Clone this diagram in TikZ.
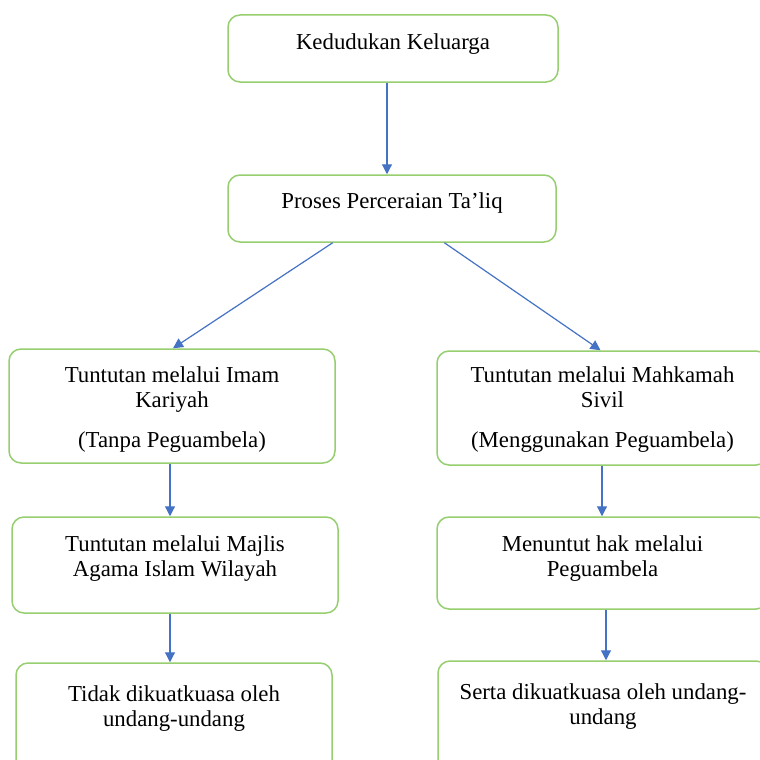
\documentclass[tikz,border=0pt]{standalone}
\usepackage{fontspec}
\setmainfont{Liberation Serif}
\usetikzlibrary{arrows.meta,calc}
\definecolor{boxgreen}{RGB}{150,206,112}
\definecolor{arrblue}{RGB}{68,114,196}
\newcommand{\boxtext}[4]{\parbox[t][#2][t]{#1}{\centering\rule{0pt}{#3}#4}}
\tikzset{
  flowbox/.style={draw=boxgreen, line width=1.5pt, rounded corners=12pt, inner sep=0pt, fill=white,
    font=\fontsize{22.8}{25}\selectfont},
  flowarrow/.style={draw=arrblue, line width=1.2pt, -{Triangle[length=10pt,width=10pt]}}
}
\begin{document}
\begin{tikzpicture}[x=1pt,y=-1pt]
\useasboundingbox (0,0) rectangle (760,760);
\clip (0,0) rectangle (760,760);
\fill[white] (0,0) rectangle (760,760);

\node[flowbox] (b1) at (393,48.5) {\boxtext{330pt}{67pt}{35pt}{Kedudukan Keluarga}};
\node[flowbox] (b2) at (392,208.5) {\boxtext{328pt}{67pt}{33pt}{Proses Perceraian Ta’liq}};
\node[flowbox] (b3) at (172,406) {\boxtext{326pt}{114pt}{33pt}{Tuntutan melalui Imam\\Kariyah\\[15pt](Tanpa Peguambela)}};
\node[flowbox] (b4) at (602.5,408) {\boxtext{331pt}{114pt}{31pt}{Tuntutan melalui Mahkamah\\Sivil\\[15pt](Menggunakan Peguambela)}};
\node[flowbox] (b5) at (175,565) {\boxtext{326pt}{96pt}{34pt}{Tuntutan melalui Majlis\\Agama Islam Wilayah}};
\node[flowbox] (b6) at (602.5,563) {\boxtext{331pt}{92pt}{34pt}{Menuntut hak melalui\\Peguambela}};
\node[flowbox] (b7) at (174,726.5) {\boxtext{316pt}{127pt}{38pt}{Tidak dikuatkuasa oleh\\undang-undang}};
\node[flowbox] (b8) at (603,725.5) {\boxtext{330pt}{129pt}{38pt}{Serta dikuatkuasa oleh undang-\\undang}};

\draw[flowarrow] ([xshift=-6pt]b1.south) -- ([xshift=-5pt]b2.north);
\draw[flowarrow] ($(b2.south west)!0.32!(b2.south east)$) -- ([xshift=1pt]b3.north);
\draw[flowarrow] ($(b2.south west)!0.659!(b2.south east)$) -- ([xshift=-2pt]b4.north);
\draw[flowarrow] ([xshift=-2pt]b3.south) -- ([xshift=-5pt]b5.north);
\draw[flowarrow] ([xshift=-0.5pt]b4.south) -- ([xshift=-0.5pt]b6.north);
\draw[flowarrow] ([xshift=-5pt]b5.south) -- ([xshift=-4pt]b7.north);
\draw[flowarrow] ([xshift=3.5pt]b6.south) -- ([xshift=3pt]b8.north);
\end{tikzpicture}
\end{document}
